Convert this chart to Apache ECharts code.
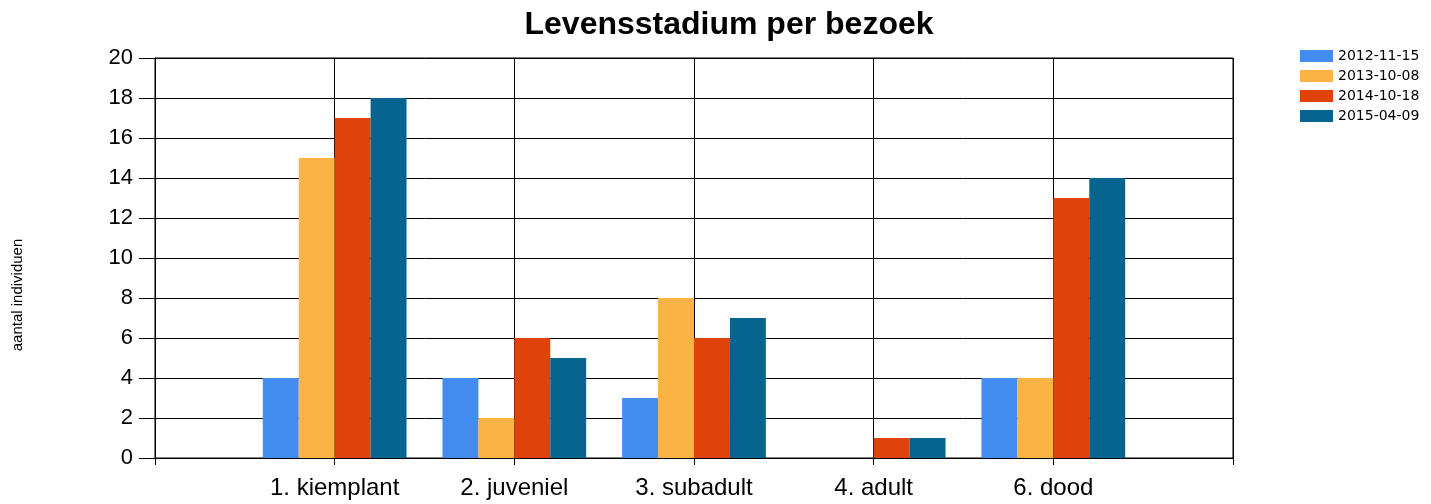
<!DOCTYPE html>
<html>
<head>
<meta charset="utf-8">
<script src="https://cdn.jsdelivr.net/npm/echarts@6/dist/echarts.min.js"></script>
<style>
  html, body { margin: 0; padding: 0; background: #fff; }
  #chart { width: 1431px; height: 504px; }
</style>
</head>
<body>
<div id="chart"></div>
<script>
// categorieen (lege plaatsen aan begin en eind zoals in het origineel)
var stadia = ['', '1. kiemplant', '2. juveniel', '3. subadult', '4. adult', '6. dood', ''];
var bezoeken = ['2012-11-15', '2013-10-08', '2014-10-18', '2015-04-09'];
var kleuren = ['#428cf0', '#fbb344', '#e0420c', '#06648f'];
// aantal individuen per bezoek
var v2012 = [null, 4, 4, 3, 0, 4, null];
var v2013 = [null, 15, 2, 8, 0, 4, null];
var v2014 = [null, 17, 6, 6, 1, 13, null];
var v2015 = [null, 18, 5, 7, 1, 14, null];
var yTicks = [0, 20, 2]; // min, max, interval

var myChart = echarts.init(document.getElementById('chart'));
var font = 'Liberation Sans, Arial, sans-serif';
var reeksen = [v2012, v2013, v2014, v2015];

var series = [];
for (var i = 0; i < bezoeken.length; i++) {
  series.push({
    name: bezoeken[i],
    type: 'bar',
    data: reeksen[i],
    barGap: 0,
    barCategoryGap: '20%',
    itemStyle: { color: kleuren[i] }
  });
}

var option = {
  animation: false,
  title: {
    text: 'Levensstadium per bezoek',
    left: 724,
    textAlign: 'center',
    top: 4,
    textStyle: { fontFamily: font, fontSize: 32, fontWeight: 'bold', color: '#000' }
  },
  legend: {
    orient: 'vertical',
    left: 1295,
    top: 44,
    itemWidth: 33,
    itemHeight: 12,
    itemGap: 6,
    icon: 'rect',
    data: bezoeken,
    textStyle: { fontFamily: 'DejaVu Sans, sans-serif', fontSize: 14, color: '#000' }
  },
  // y-as titel staat in het origineel iets lager dan het midden
  graphic: [{
    type: 'text',
    x: 18,
    y: 295,
    rotation: Math.PI / 2,
    style: {
      text: 'aantal individuen',
      fontFamily: font,
      fontSize: 15,
      fill: '#000',
      align: 'center',
      verticalAlign: 'middle'
    }
  }],
  grid: {
    left: 155,
    right: 198,
    top: 58,
    bottom: 46,
    show: true,
    borderColor: '#000',
    borderWidth: 1
  },
  xAxis: {
    type: 'category',
    data: stadia,
    boundaryGap: false,
    axisLine: { lineStyle: { color: '#000', width: 1 } },
    axisTick: { show: true, length: 7, interval: 0, lineStyle: { color: '#000' } },
    axisLabel: { interval: 0, fontFamily: font, fontSize: 24, color: '#000', margin: 18 },
    splitLine: { show: true, interval: 0, lineStyle: { color: '#000', width: 1 } }
  },
  yAxis: {
    type: 'value',
    min: yTicks[0],
    max: yTicks[1],
    interval: yTicks[2],
    axisLine: { show: true, lineStyle: { color: '#000', width: 1 } },
    axisTick: { show: true, length: 16, lineStyle: { color: '#000' } },
    axisLabel: { fontFamily: font, fontSize: 22, color: '#000', margin: 22 },
    splitLine: { show: true, lineStyle: { color: '#000', width: 1 } }
  },
  series: series
};

myChart.setOption(option);
</script>
</body>
</html>
